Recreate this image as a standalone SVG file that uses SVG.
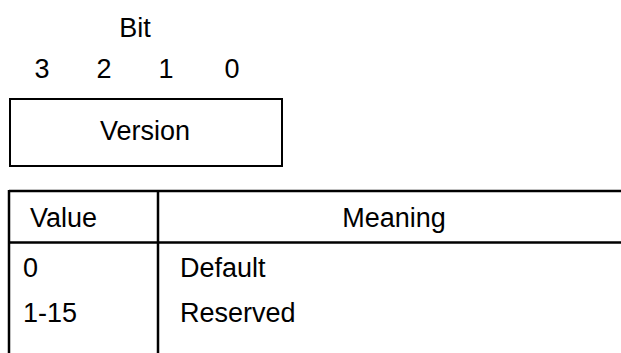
<svg xmlns="http://www.w3.org/2000/svg" width="621" height="353" viewBox="0 0 621 353">
<style>
text{font-family:"Liberation Sans",Arial,sans-serif;font-size:27px;fill:#000}
.c{text-anchor:middle}
.ln{stroke:#000;stroke-width:2.5;fill:none}
</style>
<rect width="621" height="353" fill="#fff"/>
<g id="bits">
<text class="c" x="135" y="37">Bit</text>
<text class="c" x="42" y="78">3</text>
<text class="c" x="104" y="78">2</text>
<text class="c" x="166" y="78">1</text>
<text class="c" x="232" y="78">0</text>
</g>
<g id="version">
<rect x="10" y="99" width="272" height="67" fill="#fff" stroke="#000" stroke-width="2"/>
<text class="c" x="145" y="140">Version</text>
</g>
<g id="table">
<path class="ln" d="M9 191H621M9 242.5H621M9 190V353M158 190V353"/>
<text x="30" y="227">Value</text>
<text class="c" x="394" y="227">Meaning</text>
<text x="23" y="277">0</text>
<text x="23" y="322">1-15</text>
<text x="180" y="277">Default</text>
<text x="180" y="322">Reserved</text>
</g>
</svg>
